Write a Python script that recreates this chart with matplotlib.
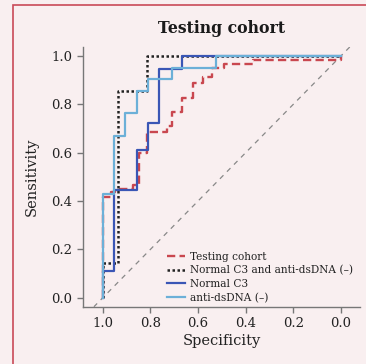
import matplotlib
matplotlib.use("Agg")
import matplotlib.pyplot as plt
from matplotlib.patches import Rectangle

# ROC corner points (specificity, sensitivity)
test_spec = [1.0, 1.0, 0.965, 0.95, 0.875, 0.848, 0.815, 0.731, 0.708, 0.666, 0.62, 0.578, 0.543, 0.491, 0.368, 0.0]
test_sens = [0.0, 0.418, 0.438, 0.45, 0.466, 0.597, 0.687, 0.71, 0.77, 0.825, 0.887, 0.914, 0.949, 0.967, 0.983, 1.0]

combo_spec = [1.0, 1.0, 0.937, 0.813, 0.0]
combo_sens = [0.0, 0.143, 0.857, 1.0, 1.0]

c3_spec = [1.0, 1.0, 0.951, 0.855, 0.81, 0.762, 0.666, 0.0]
c3_sens = [0.0, 0.111, 0.444, 0.611, 0.722, 0.944, 1.0, 1.0]

ds_spec = [1.0, 1.0, 0.952, 0.905, 0.857, 0.81, 0.71, 0.524, 0.0]
ds_sens = [0.0, 0.429, 0.667, 0.762, 0.857, 0.905, 0.952, 1.0, 1.0]

labels = ["Testing cohort", "Normal C3 and anti-dsDNA (\u2013)", "Normal C3", "anti-dsDNA (\u2013)"]
ticks = [1.0, 0.8, 0.6, 0.4, 0.2, 0.0]

bg = "#f9eff0"
plt.rcParams['font.family'] = ['DejaVu Serif']

fig = plt.figure(figsize=(3.66, 3.64), dpi=100, facecolor=bg)
fig.patches.append(Rectangle((12.5/366, -0.1), 1.0, (364 - 5.5) / 364 + 0.1,
                             transform=fig.transFigure, fill=False,
                             edgecolor="#c94a58", linewidth=1.2, zorder=0))

ax = fig.add_axes([83/366, (364-306.7)/364, (360-83)/366, (306.7-47)/364])
ax.set_facecolor("none")

ax.axline((1, 0), (0, 1), color="#888888", lw=0.9, linestyle=(0, (4, 4)), zorder=1)

ax.plot(test_spec, test_sens, drawstyle="steps-post", color="#c9474f", lw=1.7,
        linestyle=(0, (3.5, 1.8)), label=labels[0], zorder=2)
ax.plot(combo_spec, combo_sens, drawstyle="steps-post", color="#222222", lw=1.8,
        linestyle=(0, (1, 1)), label=labels[1], zorder=3)
ax.plot(c3_spec, c3_sens, drawstyle="steps-post", color="#3a56b5", lw=1.6,
        label=labels[2], zorder=4)
ax.plot(ds_spec, ds_sens, drawstyle="steps-post", color="#6cb0d8", lw=1.6,
        label=labels[3], zorder=5)

ax.set_xlim(1.083, -0.08)
ax.set_ylim(-0.037, 1.037)
ax.set_xticks(ticks)
ax.set_yticks(ticks)
ax.set_xticklabels([f"{t:.1f}" for t in ticks])
ax.set_yticklabels([f"{t:.1f}" for t in ticks])

for s in ["top", "right"]:
    ax.spines[s].set_visible(False)
for s in ["left", "bottom"]:
    ax.spines[s].set_color("#777777")
    ax.spines[s].set_linewidth(1.0)
ax.tick_params(colors="#777777", labelcolor="#222222", labelsize=9.5, length=4, width=1.0)

ax.set_xlabel("Specificity", fontsize=10.5, color="#222222", labelpad=3)
ax.set_ylabel("Sensitivity", fontsize=10.5, color="#222222", labelpad=9)
fig.text(0.5 * (83 + 360) / 366, 1 - 28.5/364, "Testing cohort", ha="center", va="center",
         fontsize=11.3, fontweight="bold", color="#1a1a1a")

leg = ax.legend(loc="lower left", bbox_to_anchor=(0.305, 0.015), frameon=False,
                fontsize=7.6, handlelength=1.7, handletextpad=0.4, labelspacing=0.32,
                borderpad=0.0, borderaxespad=0.0)
for t in leg.get_texts():
    t.set_color("#222222")

fig.savefig("out.png", dpi=100, facecolor=bg)
